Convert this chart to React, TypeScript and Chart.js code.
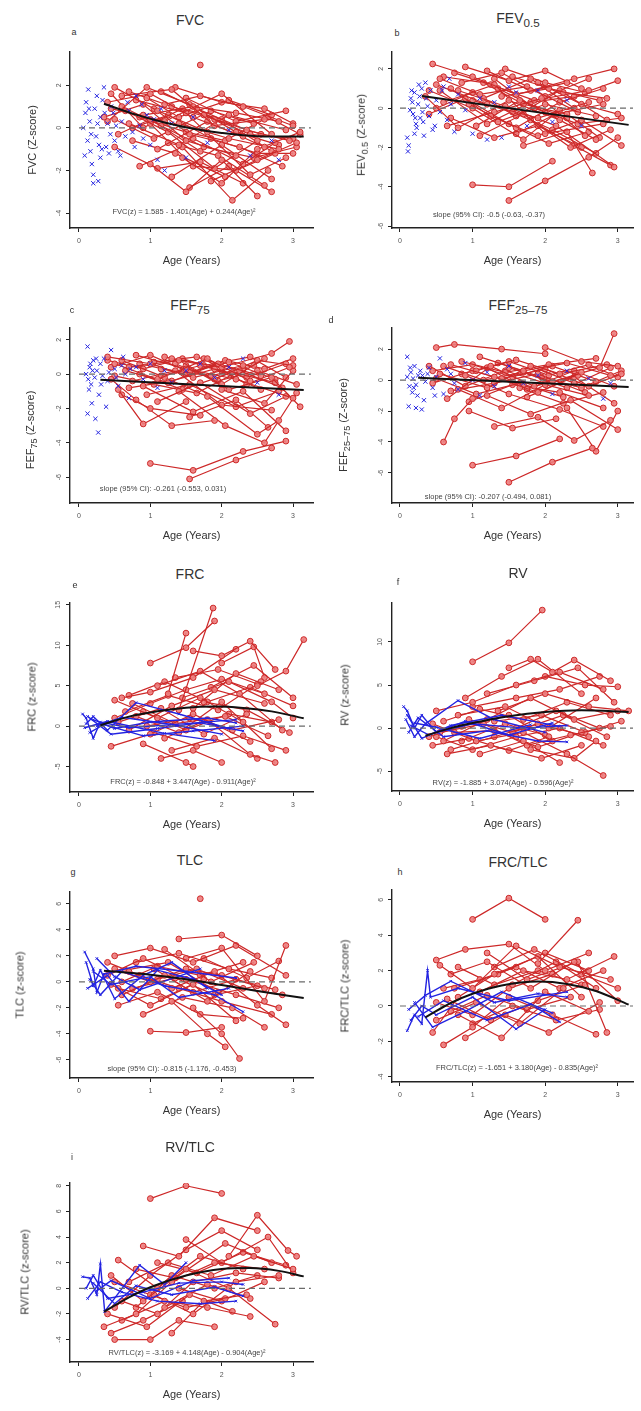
import React, { useEffect, useRef } from "react";
import { Chart, registerables } from "chart.js";
Chart.register(...registerables);

const FONT = '"Liberation Sans", Arial, Helvetica, sans-serif';

const xTickValues = [0, 1, 2, 3];

// ---------- a: FVC ----------
const fvcTicks = [2, 0, -2, -4];
const fvcRed: number[][] = [
  [0.4, 1.2, 1.0, 1.6, 1.6, 0.5, 2.3, -0.4],
  [0.5, 1.9, 1.1, 0.8, 1.8, -0.2],
  [0.45, 0.9, 1.2, 0.3, 2.0, 1.6, 2.7, -0.3],
  [0.6, 1.5, 1.3, 1.8, 1.9, 0.1, 2.6, 0.4],
  [0.35, 0.5, 0.9, 1.1, 1.5, -0.6, 2.2, -1.3],
  [0.7, 0.2, 1.4, -0.8, 2.1, 0.6, 2.9, -0.1],
  [0.8, 1.3, 1.5, 0.7, 2.4, -2.2, 2.9, -1.4],
  [0.55, -0.3, 1.0, 0.4, 1.7, -1.1],
  [1.0, -1.7, 1.5, -3.0, 2.0, -1.5, 2.5, -3.2],
  [0.9, 0.6, 1.6, 1.0, 2.2, 0.7, 2.8, 0.3],
  [1.1, -1.0, 1.8, 0.3, 2.6, -0.9],
  [1.2, 1.1, 1.7, 1.5, 2.3, 1.0, 3.0, 0.1],
  [1.3, -2.3, 2.0, -0.8, 2.7, -2.4],
  [0.65, 0.8, 1.25, -0.2, 1.9, -1.9, 2.5, -0.6],
  [1.4, 0.2, 2.1, -0.5, 2.8, -1.0],
  [1.45, -1.4, 2.0, -2.6, 2.5, -1.0, 3.1, -0.2],
  [1.5, 1.4, 2.2, 0.3, 2.9, 0.8],
  [0.75, -0.6, 1.35, -1.2, 2.05, -2.3],
  [1.15, 1.7, 1.65, 0.9, 2.35, -0.1, 2.95, -0.6],
  [1.6, -0.5, 2.3, -1.7, 2.75, -0.7],
  [1.7, 2.95],
  [0.85, -1.8, 1.45, -0.9, 2.15, -3.4, 2.65, -2.0],
  [1.75, 0.6, 2.4, -0.3, 3.0, -0.5],
  [0.5, 0.4, 1.05, -0.5, 1.85, 0.8, 2.45, 0.2],
  [1.05, 0.9, 1.55, -0.3, 2.25, -0.9, 2.85, -1.8],
  [1.85, -2.5, 2.5, -1.5, 3.05, -0.7],
  [0.95, 1.4, 1.4, 0.5, 2.1, 1.3, 2.7, 0.6],
  [1.25, -0.7, 1.95, -1.3, 2.6, -2.7],
  [0.4, 0.3, 0.95, 1.9, 1.55, 1.1, 2.2, -0.2, 2.8, -0.8],
  [0.6, 1.0, 1.15, 0.1, 1.75, -0.9, 2.45, -1.4, 3.05, -0.9],
  [0.7, 1.7, 1.3, 1.0, 1.9, 0.4, 2.55, -0.3],
  [0.85, 0.5, 1.5, -0.2, 2.05, -0.6, 2.65, 0.5, 3.1, -0.3],
  [0.5, -0.9, 1.1, -1.9, 1.7, -1.6, 2.3, -2.6],
  [1.0, 0.2, 1.6, -1.8, 2.2, -2.0, 2.75, -1.2],
  [1.35, 1.9, 2.0, 1.2, 2.6, 0.9, 3.0, 0.2],
  [0.45, 1.6, 0.9, 0.0, 1.45, 0.9, 2.0, 0.4, 2.7, -1.1],
  [1.55, -2.8, 2.1, -1.8, 2.7, -3.0],
  [0.75, 0.0, 1.25, 0.6, 1.85, -0.5, 2.5, -1.2, 3.0, -1.2],
];
const fvcBlue = [
  0.1, 1.2, 0.12, -0.6, 0.15, 0.3, 0.18, -1.7, 0.2, -2.2, 0.08, -1.3, 0.22, 0.9, 0.25, 1.5,
  0.28, -0.8, 0.3, 0.5, 0.13, 1.8, 0.17, -0.3, 0.32, -1.0, 0.35, 1.9, 0.38, -0.9, 0.4, 0.2,
  0.42, -1.2, 0.45, 1.0, 0.5, -0.6, 0.55, -1.1, 0.6, 0.3, 0.65, -0.4, 0.7, 0.8, 0.75, -0.2,
  0.8, 1.5, 0.85, 0.1, 0.9, -0.5, 0.95, 0.6, 1.0, -0.8, 1.05, 0.4, 1.1, -1.5, 1.15, 0.9,
  1.2, -2.0, 1.3, 0.2, 0.27, -2.5, 0.2, -2.6, 0.06, 0.0, 0.09, 0.7, 0.33, 1.3, 0.48, 0.7,
  0.58, -1.3, 0.68, 1.2, 0.78, -0.9, 0.88, 1.1, 1.5, -1.4, 1.6, 0.5, 1.8, -0.7, 2.1, -0.1,
  2.4, -1.3, 2.7, -0.6, 2.8, -1.5, 0.14, 0.9, 0.16, -1.1, 0.24, -0.4, 0.26, 0.2, 0.3, -1.4,
  0.36, 0.7, 0.44, -0.3, 0.52, 0.1,
];
const fvcFit = [0.35, 1.13, 0.8, 0.62, 1.2, 0.25, 1.6, -0.04, 2.0, -0.24, 2.5, -0.39, 3.15, -0.41];

// ---------- b: FEV0.5 ----------
const fevTicks = [2, 0, -2, -4, -6];
const fevRed: number[][] = [
  [0.45, 2.25, 1.0, 1.6, 1.6, 0.7, 2.3, 1.3],
  [0.5, 1.2, 1.2, 0.2, 1.9, -0.5, 2.6, 0.3],
  [0.9, 2.1, 1.5, 1.4, 2.0, 1.9, 2.5, 1.0],
  [0.35, 0.6, 0.8, -1.0, 1.5, 0.4, 2.2, -0.6],
  [0.6, 0.3, 1.3, 1.2, 2.0, -1.3, 2.8, -0.8],
  [1.0, -3.9, 1.5, -4.0, 2.1, -2.7],
  [1.5, -4.7, 2.0, -3.7, 2.6, -2.5, 3.0, -1.5],
  [1.7, -1.9, 2.3, -1.2, 2.65, -3.3],
  [1.2, 1.9, 1.8, 0.9, 2.4, 1.5, 2.95, 2.0],
  [0.7, 1.0, 1.35, -0.7, 2.0, 0.2, 2.7, -0.4],
  [1.1, -1.4, 1.7, -0.3, 2.35, -2.0, 2.9, -1.1],
  [0.8, 0.9, 1.45, 0.1, 2.15, -0.9, 2.95, -3.0],
  [1.4, 0.6, 2.05, 1.0, 2.75, 0.4],
  [0.55, 1.5, 1.1, 0.7, 1.75, 1.1, 2.45, -0.2],
  [1.25, -0.4, 1.9, -1.4, 2.5, -0.6, 3.05, -1.9],
  [0.65, -0.9, 1.3, -0.2, 1.95, 0.5, 2.55, -1.4],
  [1.55, 1.6, 2.25, 0.8, 2.85, 0.5],
  [0.95, 0.2, 1.6, -1.0, 2.2, 0.3, 2.8, 1.0],
  [1.8, -0.6, 2.4, -1.9, 2.9, -2.9],
  [0.75, 1.8, 1.25, 1.2, 1.85, 0.4, 2.6, 0.9],
  [1.05, -0.9, 1.65, 0.4, 2.3, -0.5],
  [1.35, 1.0, 2.0, -0.2, 2.7, -1.6],
  [0.4, 0.9, 1.0, 0.0, 1.7, -1.6, 2.2, -0.1],
  [1.9, 1.3, 2.5, 0.2, 3.0, -0.3],
  [1.15, 0.5, 1.8, 1.5, 2.4, 0.0],
  [0.5, 0.0, 1.0, 0.8, 1.6, -0.4, 2.2, 0.9, 2.85, -0.6],
  [0.6, 1.6, 1.15, 1.3, 1.7, 0.2, 2.3, -0.3, 2.75, -1.5],
  [0.7, -0.5, 1.3, -1.5, 1.9, -0.9, 2.5, -2.0],
  [0.85, 1.3, 1.4, 1.8, 2.0, 0.6, 2.6, 1.5],
  [1.0, 0.4, 1.55, -0.2, 2.1, -1.1, 2.7, -2.3],
  [1.3, 1.5, 1.85, 0.0, 2.45, -0.8, 3.05, -0.5],
  [0.4, -0.3, 0.9, 0.5, 1.5, -0.8, 2.05, -1.8, 2.6, -1.2],
  [1.6, -1.3, 2.15, -0.3, 2.8, 0.2],
  [0.55, 0.9, 1.2, -0.8, 1.8, 0.3, 2.4, 0.6],
  [1.45, 2.0, 2.0, 1.3, 2.55, 0.8, 3.0, 1.4],
];
const fevBlue = [
  0.1, -1.5, 0.12, -1.9, 0.11, -2.2, 0.15, 0.5, 0.18, -0.3, 0.2, 0.8, 0.22, -0.8, 0.25, 0.2,
  0.28, -0.5, 0.3, 1.0, 0.14, -0.1, 0.17, 0.3, 0.23, -1.0, 0.27, 0.6, 0.32, -0.7, 0.35, 1.3,
  0.38, 0.1, 0.4, -0.4, 0.42, 0.9, 0.45, -1.1, 0.5, 0.4, 0.55, -0.2, 0.6, 1.1, 0.65, -0.6,
  0.7, 0.2, 0.75, -1.2, 0.8, 0.7, 0.9, -0.1, 1.0, -1.3, 1.1, 0.5, 1.2, -1.6, 1.3, 0.3,
  1.4, -1.5, 1.5, 1.1, 1.6, 0.8, 1.75, -0.9, 1.9, 0.9, 2.1, -0.7, 2.3, 0.4, 2.5, -0.9,
  0.2, -1.3, 0.33, -1.4, 0.48, -0.9, 0.58, 0.9, 0.68, 1.5, 0.16, 0.9, 0.21, -0.5, 0.26, 1.2,
  0.31, -0.2, 0.36, 0.5,
];
const fevFit = [0.3, 0.62, 3.15, -0.85];

// ---------- c: FEF75 ----------
const fef75Ticks = [2, 0, -2, -4, -6];
const fef75Red: number[][] = [
  [0.4, 1.0, 1.0, 0.6, 1.6, -0.2, 2.3, 0.5],
  [0.5, 0.6, 1.1, -0.3, 1.8, 0.9, 2.4, -0.4],
  [0.55, -0.9, 0.9, -2.9, 1.5, -1.6],
  [0.6, -1.2, 1.0, -2.0, 1.7, -2.4],
  [0.45, -0.3, 0.8, -1.5, 1.3, -3.0, 1.9, -2.7],
  [1.0, -5.2, 1.6, -5.6, 2.3, -4.5, 2.9, -3.9],
  [1.55, -6.1, 2.2, -5.0, 2.7, -4.3],
  [0.7, 0.4, 1.4, 0.8, 2.0, -0.6, 2.6, 0.9],
  [1.2, -0.2, 1.8, -1.3, 2.5, -3.5, 2.8, -2.7],
  [0.8, 1.1, 1.5, 0.3, 2.2, -0.3, 3.0, -1.4],
  [1.3, 0.9, 2.0, 0.4, 2.7, 1.2, 2.95, 1.9],
  [0.9, -0.7, 1.6, -2.2, 2.3, -1.0, 2.9, -3.3],
  [1.5, 0.5, 2.1, -0.9, 2.7, -0.2, 3.1, -1.9],
  [1.1, -1.6, 1.7, -0.5, 2.4, -2.3, 2.9, -1.3],
  [0.65, 0.2, 1.25, -0.5, 1.95, 0.6, 2.55, -0.1],
  [1.4, -1.0, 2.05, -3.0, 2.6, -4.0, 3.05, -1.1],
  [1.75, 0.9, 2.35, -0.6, 2.95, 0.4],
  [0.75, -0.4, 1.35, 0.2, 2.0, -1.8, 2.7, -2.1],
  [1.05, 0.7, 1.65, 1.0, 2.25, 0.2, 2.85, -0.8],
  [1.9, -0.3, 2.5, 0.8, 3.0, 0.5],
  [0.85, 0.0, 1.45, -0.9, 2.15, 0.1, 2.75, -0.5],
  [1.55, -2.5, 2.2, -1.5, 2.65, -3.1],
  [1.15, 0.3, 1.85, -0.1, 2.45, 0.5],
  [2.0, -0.9, 2.6, -1.7, 3.0, 0.2],
  [0.45, 0.4, 1.0, 1.1, 1.55, 0.1, 2.1, 0.7, 2.75, -0.3],
  [0.6, 0.8, 1.15, -0.1, 1.7, 0.5, 2.35, -0.2, 2.9, 0.6],
  [0.7, -0.8, 1.3, -0.4, 1.9, 0.3, 2.55, -0.9],
  [0.85, 0.6, 1.5, 0.0, 2.05, 0.8, 2.6, 0.3, 3.0, 0.9],
  [0.5, -0.1, 1.05, -0.6, 1.65, -1.1, 2.3, 0.3],
  [1.2, 1.0, 1.75, 0.5, 2.4, 1.0, 2.9, -0.2],
  [0.95, -1.2, 1.55, -0.6, 2.2, -1.9, 2.8, -1.0],
  [1.35, 0.6, 1.95, -0.4, 2.5, 0.2, 3.05, -0.6],
  [0.4, 0.8, 0.9, 0.3, 1.45, 0.9, 2.0, 0.2],
];
const fef75Blue = [
  0.12, 1.6, 0.1, 0.0, 0.13, -0.3, 0.15, 0.4, 0.17, -0.6, 0.2, 0.8, 0.22, -0.2, 0.25, 0.2,
  0.18, -1.7, 0.12, -2.3, 0.23, -2.6, 0.27, -3.4, 0.3, 0.6, 0.33, -0.1, 0.35, 0.9, 0.4, -0.4,
  0.45, 1.4, 0.5, 0.3, 0.55, -0.7, 0.6, 0.5, 0.65, 0.0, 0.7, -1.4, 0.8, 0.4, 0.9, -0.3,
  1.0, 0.6, 1.1, -0.8, 1.2, 0.2, 1.3, -0.5, 1.5, 0.2, 1.7, 0.6, 1.9, -0.2, 2.1, 0.4,
  2.3, 0.9, 2.5, -0.5, 2.8, -1.2, 0.28, -1.2, 0.38, -1.9, 0.16, 0.6, 0.42, 0.1, 0.52, -0.2,
  0.62, 1.0, 0.72, 0.3, 0.14, -0.9, 0.19, 0.2, 0.24, 0.9, 0.31, -0.6,
];
const fef75Fit = [0.3, -0.33, 3.15, -0.93];

// ---------- d: FEF25-75 ----------
const fef2575Ticks = [2, 0, -2, -4, -6];
const fef2575Red: number[][] = [
  [0.5, 2.1, 0.75, 2.3, 1.4, 2.0, 2.0, 1.7],
  [2.0, 2.1, 2.5, 1.2, 3.0, 0.9],
  [0.6, -4.0, 0.75, -2.5, 1.0, -1.2],
  [1.0, -5.5, 1.6, -4.9, 2.2, -3.8],
  [1.5, -6.6, 2.1, -5.3, 2.65, -4.4],
  [0.7, 1.0, 1.3, 0.2, 1.9, -0.8, 2.5, 0.5],
  [0.8, -0.6, 1.4, -1.8, 2.0, -0.3, 2.6, -1.0],
  [1.1, 1.5, 1.7, 0.6, 2.3, 1.1, 2.9, 0.3],
  [0.55, 0.4, 1.2, -0.5, 1.8, 0.9, 2.4, -0.2],
  [1.3, -3.0, 1.9, -2.4, 2.4, -3.9, 2.9, -2.6],
  [2.3, -1.8, 2.7, -4.6, 3.0, -2.0],
  [1.5, 0.8, 2.1, -0.1, 2.75, 0.8, 2.95, 3.0],
  [0.9, 0.3, 1.5, -0.9, 2.2, -1.9, 2.8, -3.0],
  [1.2, -1.0, 1.8, -2.2, 2.35, -1.3, 3.0, -3.2],
  [0.65, -1.2, 1.25, 0.9, 1.85, -0.4, 2.45, 0.3],
  [1.05, 0.6, 1.6, 1.3, 2.2, 0.4, 2.85, 1.0],
  [1.65, -0.5, 2.25, -1.5, 2.8, -0.8],
  [0.95, -2.0, 1.55, -3.1, 2.15, -2.5],
  [1.4, 0.1, 2.0, 0.7, 2.6, -0.4, 3.05, 0.4],
  [0.85, 1.2, 1.45, 0.5, 2.05, 1.0, 2.7, 1.4],
  [1.75, -1.1, 2.4, 0.2, 2.95, -1.5],
  [0.45, -0.2, 1.0, 0.6, 1.7, -0.3],
  [0.45, 0.6, 1.0, 1.0, 1.55, 0.2, 2.1, 0.9, 2.7, -0.1],
  [0.6, 0.9, 1.15, 0.0, 1.7, 0.5, 2.3, -0.5, 2.9, 0.8],
  [0.7, -0.7, 1.3, -0.2, 1.9, 0.4, 2.55, -0.8],
  [0.85, 0.4, 1.5, 1.2, 2.05, 0.3, 2.6, 1.0, 3.0, 0.2],
  [0.5, 0.1, 1.05, -0.9, 1.65, -0.2, 2.25, -1.1],
  [1.2, 0.8, 1.75, -0.6, 2.4, 0.6, 2.95, -0.4],
  [0.95, -1.4, 1.55, -0.3, 2.2, -0.8, 2.8, -1.8],
  [1.35, 1.1, 1.95, 0.2, 2.5, -0.5, 3.05, 0.6],
  [0.4, 0.9, 0.9, -0.4, 1.45, 0.6, 2.0, -0.2],
];
const fef2575Blue = [
  0.1, 1.5, 0.1, 0.2, 0.13, -0.4, 0.15, 0.5, 0.17, -0.8, 0.2, 0.9, 0.22, -0.3, 0.25, 0.3,
  0.12, -1.7, 0.22, -1.8, 0.3, -1.9, 0.33, -1.3, 0.28, 0.6, 0.35, -0.1, 0.4, 0.8, 0.45, -0.5,
  0.5, 0.2, 0.55, 1.4, 0.6, -0.9, 0.7, 0.4, 0.8, -0.6, 0.9, 1.1, 1.0, 0.0, 1.1, -1.0,
  1.2, 0.5, 1.3, -0.4, 1.5, 0.9, 1.7, -0.2, 1.9, 0.3, 2.1, -0.9, 2.3, 0.6, 2.6, 0.1,
  2.8, -1.2, 2.9, -0.2, 0.18, 0.1, 0.38, 0.4, 0.48, -1.0, 0.65, 0.7, 0.75, -0.2, 0.14, 0.8,
  0.19, -0.5, 0.24, -1.0, 0.31, 0.3,
];
const fef2575Fit = [0.25, 0.15, 3.15, -0.45];

// ---------- e: FRC ----------
const frcTicks = [15, 10, 5, 0, -5];
const frcRed: number[][] = [
  [1.0, 7.8, 1.5, 9.7, 1.9, 13.0],
  [1.25, 4.0, 1.5, 11.5],
  [1.4, 2.0, 1.88, 14.6],
  [1.6, 9.3, 2.0, 8.7, 2.4, 10.5, 2.75, 7.0],
  [0.6, 3.5, 1.0, 4.2, 1.6, 6.0, 2.2, 9.5],
  [2.5, 5.0, 2.9, 6.8, 3.15, 10.7],
  [0.5, 3.2, 1.1, 1.0, 1.7, 3.5, 2.3, 0.5],
  [0.45, -2.5, 1.0, -1.0, 1.6, 1.5, 2.4, -1.9],
  [0.7, -0.5, 1.3, 2.5, 1.9, 4.5, 2.6, 2.8],
  [0.8, 1.2, 1.4, -0.8, 2.0, 3.0, 2.7, -2.8],
  [1.1, 5.0, 1.7, 6.8, 2.25, 4.0, 2.85, -0.5],
  [0.9, -2.2, 1.5, -4.5, 1.6, -5.0],
  [1.2, -1.5, 1.8, 0.8, 2.4, -3.5, 2.75, -4.5],
  [1.45, 3.5, 2.1, 5.5, 2.7, 3.0, 3.0, 1.0],
  [0.55, 0.5, 1.15, 2.2, 1.75, -1.0, 2.35, 1.5],
  [1.3, -3.0, 1.9, -1.5, 2.5, -4.0],
  [1.6, 2.2, 2.2, 6.5, 2.8, 4.5],
  [0.65, 1.8, 1.25, 3.8, 1.95, 2.0, 2.55, 5.5],
  [0.95, 0.0, 1.55, 1.0, 2.15, -0.5, 2.8, 0.8],
  [1.85, 4.8, 2.45, 7.5, 3.0, 3.5],
  [1.05, -0.8, 1.65, -2.5, 2.3, -1.2, 2.9, -3.0],
  [0.75, 2.8, 1.35, 0.3, 2.05, 1.2, 2.65, -1.2],
  [1.75, 3.0, 2.35, 2.0, 2.95, -0.8],
  [2.0, 7.8, 2.45, 9.8, 2.6, 6.0],
  [1.15, -4.0, 1.6, -3.0, 2.0, -4.5],
  [0.5, 1.0, 1.0, 2.8, 1.5, 4.5, 2.0, 5.8, 2.6, 4.0],
  [0.7, 3.8, 1.2, 5.5, 1.8, 3.0, 2.4, 4.8, 3.0, 2.5],
  [0.9, 1.8, 1.5, -0.5, 2.1, 1.5, 2.7, 0.5],
  [1.35, 6.0, 1.95, 7.0, 2.5, 5.2],
];
const frcBlue: number[][] = [
  [0.05, 1.5, 0.1, 1.0, 0.2, -1.5, 0.3, 0.5, 0.7, -0.2, 1.5, 0.3, 2.2, 0.8],
  [0.1, 0.3, 0.2, 1.2, 0.4, -0.5, 0.8, 2.9, 1.4, 1.5, 2.1, -0.3],
  [0.15, -0.8, 0.35, 0.2, 0.9, -1.2, 1.6, -0.6, 2.3, 0.0],
  [0.2, 0.8, 0.5, -0.3, 1.0, 0.5, 1.8, 1.0, 2.2, 0.4],
  [0.08, -0.2, 0.4, 0.6, 1.2, -0.9, 1.9, -1.8],
  [0.25, 0.0, 0.6, 1.1, 1.3, 0.2, 2.0, -1.0],
  [0.12, 1.2, 0.45, -1.0, 1.1, -0.3, 1.7, 0.4, 2.3, -0.6],
];
const frcFit = [0.3, 0.1, 0.7, 1.17, 1.1, 1.84, 1.5, 2.27, 1.9, 2.41, 2.3, 2.24, 2.7, 1.82, 3.15, 0.97];

// ---------- f: RV ----------
const rvTicks = [10, 5, 0, -5];
const rvRed: number[][] = [
  [1.0, 7.7, 1.5, 9.9, 1.96, 13.7],
  [1.5, 7.0, 1.8, 8.0, 2.1, 6.5, 2.4, 7.9, 2.9, 5.5],
  [0.9, 3.5, 1.4, 6.0, 1.9, 8.0, 2.5, 4.0],
  [0.5, 2.0, 1.0, 3.0, 1.6, 5.0, 2.2, 6.5, 2.8, 4.5],
  [0.6, -1.5, 1.2, 1.0, 1.8, 3.5, 2.4, 1.0, 3.0, 2.0],
  [0.45, 0.5, 1.05, -1.5, 1.7, -0.5, 2.3, -3.0, 2.8, -5.5],
  [0.7, -2.5, 1.3, -1.0, 1.9, 0.5, 2.6, -1.0],
  [0.8, 1.5, 1.45, 2.5, 2.05, 0.0, 2.7, 3.5],
  [1.1, -3.0, 1.7, -1.5, 2.2, -4.0],
  [1.2, 4.0, 1.85, 5.5, 2.45, 7.0, 2.95, 3.0],
  [0.55, -0.5, 1.15, 0.5, 1.75, -2.0, 2.35, -0.8, 2.9, 0.2],
  [1.35, 2.0, 2.0, 4.0, 2.6, 2.5, 3.15, 2.0],
  [0.65, -3.0, 1.25, -2.0, 1.95, -3.5, 2.5, -2.0],
  [1.6, 0.0, 2.15, 2.0, 2.75, 0.0],
  [0.95, 1.0, 1.55, -0.5, 2.25, 1.5, 2.85, -1.0],
  [1.8, -2.5, 2.4, -3.5, 2.7, -1.5],
  [2.0, 6.0, 2.55, 5.0, 3.0, 4.8],
  [0.4, -1.0, 0.85, 0.2, 1.5, 1.5, 2.1, -1.5],
  [0.5, -1.0, 1.0, -2.5, 1.6, -1.0, 2.2, 0.0, 2.8, -2.0],
  [0.6, 0.8, 1.1, 2.2, 1.7, 1.0, 2.3, 3.0, 2.9, 1.5],
  [0.75, -0.5, 1.3, -0.3, 1.9, -2.2, 2.5, -0.5],
  [1.0, 2.5, 1.6, 3.5, 2.2, 4.5, 2.75, 6.0],
  [0.45, -2.0, 0.95, -1.2, 1.5, -2.6, 2.05, -1.0],
  [1.3, 0.8, 1.95, 1.5, 2.55, -0.5, 3.05, 0.8],
  [0.85, -1.5, 1.45, 0.5, 2.0, -0.8],
];
const rvBlue: number[][] = [
  [0.05, 2.5, 0.1, 2.0, 0.2, 0.0, 0.3, 1.5, 0.5, -0.5, 1.0, 0.5, 1.7, 0.0, 2.3, 0.3],
  [0.08, 1.0, 0.2, -1.0, 0.35, 0.5, 0.8, 3.2, 1.3, 1.0, 2.0, -0.5],
  [0.12, -0.5, 0.25, 1.2, 0.6, -1.0, 1.2, -0.3, 1.9, -1.5, 2.3, -1.6],
  [0.15, 0.3, 0.4, -0.8, 0.9, 0.8, 1.5, -0.8, 2.1, 0.6],
  [0.1, 1.5, 0.3, -1.2, 0.7, 0.3, 1.4, 1.5, 2.2, 0.2],
  [0.2, 0.6, 0.5, 0.1, 1.1, -1.2, 1.8, 0.4],
];
const rvFit = [0.35, -0.88, 0.7, 0.0, 1.0, 0.59, 1.5, 1.38, 2.0, 1.88, 2.5, 2.08, 3.15, 1.88];

// ---------- g: TLC ----------
const tlcTicks = [6, 4, 2, 0, -2, -4, -6];
const tlcRed: number[][] = [
  [1.7, 6.4],
  [1.4, 3.3, 2.0, 3.6, 2.5, 2.0],
  [0.5, 2.0, 1.0, 2.6, 1.6, 1.5, 2.2, 2.8, 2.9, 0.5],
  [1.5, 1.8, 2.0, 2.6, 2.6, -1.5, 2.9, 2.8],
  [0.4, 0.5, 0.9, 1.8, 1.5, 0.2, 2.2, -1.0, 2.8, -2.0],
  [0.6, -1.0, 1.2, 0.5, 1.8, -1.5, 2.4, 0.8],
  [1.0, -3.8, 1.5, -3.9, 2.0, -3.5],
  [1.3, -1.5, 1.8, -4.0, 2.05, -5.0],
  [1.6, -2.0, 2.0, -4.0, 2.25, -5.9],
  [0.7, 0.8, 1.3, -0.5, 1.9, 0.8, 2.5, -1.8, 2.9, -3.3],
  [0.55, -1.8, 1.1, -0.8, 1.7, -2.5, 2.3, -2.8],
  [0.8, 1.5, 1.4, 2.2, 2.1, 1.0, 2.7, 0.3],
  [1.1, 0.2, 1.65, 1.0, 2.3, -0.5, 2.85, -1.0],
  [0.45, -0.2, 1.0, -1.8, 1.6, -0.2, 2.2, -3.0],
  [1.2, 2.5, 1.85, 0.0, 2.45, 1.5],
  [0.9, -2.5, 1.45, -1.2, 2.15, -2.0, 2.6, -3.5],
  [1.75, 1.8, 2.35, 0.3, 2.8, 1.6],
  [0.65, 0.9, 1.25, 1.5, 1.95, -0.8],
  [0.5, 1.0, 1.0, 0.0, 1.5, 1.0, 2.0, 0.5, 2.6, -0.5],
  [0.6, 0.0, 1.1, 1.2, 1.7, 0.5, 2.3, 1.5],
  [0.75, -0.5, 1.35, 0.3, 1.9, -1.0, 2.5, -0.3],
  [0.4, 1.5, 0.85, 0.5, 1.4, -0.5, 2.0, -1.5, 2.7, -2.5],
  [1.05, 1.0, 1.6, -0.8, 2.2, 0.2, 2.75, -0.6],
  [0.55, -0.5, 1.15, -1.3, 1.75, 0.2],
];
const tlcBlue: number[][] = [
  [0.08, 2.3, 0.2, 1.0, 0.25, -0.8, 0.35, 0.6, 0.8, 1.2, 1.5, 0.8, 2.2, 0.3],
  [0.1, 1.5, 0.2, -0.3, 0.3, 0.9, 0.5, -1.3, 0.9, 0.5, 1.3, 1.5, 1.8, -0.5],
  [0.15, 0.2, 0.3, -1.0, 0.6, 0.8, 1.2, -0.3, 1.9, -1.0, 2.3, -2.3],
  [0.12, -0.5, 0.4, 0.5, 0.7, -1.5, 1.1, 0.9, 1.6, 0.2, 2.0, -1.0],
  [0.2, 0.8, 0.45, -0.2, 1.0, 0.4, 1.4, -1.2, 2.1, -0.5],
  [0.25, 1.8, 0.5, 0.4, 0.85, -0.6, 1.7, 1.0],
];
const tlcFit = [0.35, 0.85, 1.0, 0.55, 1.5, 0.2, 2.0, -0.25, 2.5, -0.7, 3.15, -1.25];

// ---------- h: FRC/TLC ----------
const frcTlcTicks = [6, 4, 2, 0, -2, -4];
const frcTlcRed: number[][] = [
  [1.0, 4.9, 1.5, 6.1, 2.0, 4.9],
  [1.9, 2.4, 2.45, 4.85],
  [0.5, 2.6, 0.9, 3.2, 1.5, 3.5, 2.0, 2.0, 2.6, 3.0],
  [0.55, 2.3, 1.0, 1.0, 1.6, 3.4, 2.2, 2.2, 2.9, 1.5],
  [0.6, -2.2, 1.0, -1.2, 1.5, 0.5, 2.1, -0.5, 2.7, -1.6],
  [0.45, -1.5, 0.8, 0.5, 1.3, 1.8, 1.9, 2.8, 2.5, 0.5],
  [0.7, 1.8, 1.2, 2.5, 1.8, 1.0, 2.4, 2.5, 3.0, 0.3],
  [0.8, -0.5, 1.4, -1.8, 2.0, 0.8, 2.6, -0.3],
  [1.1, 0.8, 1.7, 2.0, 2.3, 1.5, 2.95, 2.8],
  [0.5, -0.8, 1.05, 0.2, 1.65, -1.0, 2.25, 1.0],
  [1.2, 3.0, 1.75, 1.5, 2.45, 2.5, 2.85, -1.5],
  [0.9, -1.8, 1.45, -0.5, 2.05, -1.5, 2.75, 0.2],
  [1.3, 2.2, 1.85, 3.2, 2.5, 1.8, 3.0, 1.0],
  [0.65, 0.4, 1.25, -0.8, 1.9, 0.3, 2.55, 1.2],
  [1.55, 1.2, 2.15, 2.5, 2.7, 1.0],
  [0.75, 1.0, 1.35, 1.8, 2.0, 3.0, 2.6, 2.0],
  [0.6, 1.0, 1.1, 1.5, 1.6, 2.2, 2.2, 1.0, 2.8, 2.0],
  [0.5, 0.2, 1.0, -0.5, 1.5, 1.0, 2.1, 1.8],
  [0.8, 2.2, 1.3, 1.2, 1.9, 2.0, 2.5, 1.2],
  [1.0, -1.0, 1.55, 0.0, 2.15, -0.8, 2.75, -0.2],
  [0.7, -0.3, 1.2, 0.6, 1.75, -0.2, 2.35, 0.5],
];
const frcTlcBlue: number[][] = [
  [0.1, -1.4, 0.2, -0.5, 0.3, -1.0, 0.38, 2.0, 0.42, 0.5, 0.8, 1.0, 1.5, 0.3, 2.3, 0.8],
  [0.15, -0.8, 0.3, 0.0, 0.5, -0.5, 1.0, 0.5, 1.6, -1.3, 2.0, -0.2],
  [0.12, -0.2, 0.35, 0.6, 0.7, 1.4, 1.3, 0.2, 1.9, 0.7, 2.3, 0.5],
  [0.2, 0.2, 0.45, -1.2, 0.9, -0.3, 1.4, 0.8, 2.1, -0.4],
  [0.25, -0.6, 0.6, 0.3, 1.2, -0.8, 1.8, 0.1, 2.2, -0.9],
];
const frcTlcFit = [0.35, -0.64, 0.7, 0.17, 1.0, 0.69, 1.4, 1.16, 1.9, 1.38, 2.3, 1.25, 2.7, 0.85, 3.15, 0.08];

// ---------- i: RV/TLC ----------
const rvTlcTicks = [8, 6, 4, 2, 0, -2, -4];
const rvTlcRed: number[][] = [
  [1.0, 7.0, 1.5, 8.0, 2.0, 7.4],
  [0.9, 3.3, 1.4, 2.5, 1.9, 5.5, 2.5, 4.5],
  [2.1, 2.5, 2.5, 5.7, 2.93, 2.95, 3.05, 2.5],
  [0.5, -1.5, 1.0, 1.0, 1.5, 3.0, 2.0, 4.5, 2.5, 3.0],
  [0.35, -3.0, 0.8, -2.0, 1.3, 0.5, 1.9, 2.0, 2.6, 1.5],
  [0.5, -4.0, 1.0, -4.0, 1.4, -2.5, 1.9, -3.0],
  [0.45, 1.0, 0.9, -1.0, 1.5, 1.5, 2.1, 0.0, 2.75, -2.8],
  [0.6, -2.5, 1.2, -1.0, 1.8, -1.5, 2.4, -2.2],
  [0.7, 0.5, 1.25, 2.0, 1.85, 1.0, 2.45, 2.5, 3.0, 1.5],
  [1.05, -0.5, 1.6, -2.0, 2.2, 0.5, 2.8, 1.0],
  [0.55, 2.2, 1.1, 0.0, 1.7, 2.5, 2.3, 1.5],
  [1.3, -3.5, 1.75, -1.0, 2.35, -0.5],
  [0.8, 1.5, 1.35, 0.8, 2.05, 3.5, 2.7, 2.0],
  [1.5, 3.8, 2.0, 2.0, 2.65, 4.0, 3.0, 1.2],
  [0.4, -2.0, 0.95, -3.0, 1.55, -0.5, 2.15, -1.8],
  [1.2, -1.5, 1.8, 0.3, 2.4, -0.8],
  [0.6, -1.0, 1.1, -2.0, 1.6, 0.5, 2.2, 1.2, 2.8, 0.8],
  [0.5, 0.5, 1.0, -0.5, 1.5, -1.5, 2.05, -0.8],
  [0.8, -1.5, 1.3, 1.0, 1.9, 0.0, 2.5, 1.0],
  [1.1, 2.0, 1.65, 1.2, 2.3, 2.8, 2.9, 1.8],
  [0.45, -3.5, 0.9, -2.5, 1.45, -1.0],
  [1.4, 0.0, 2.0, -1.0, 2.6, 0.5],
];
const rvTlcBlue: number[][] = [
  [0.05, 0.9, 0.15, 0.8, 0.25, -0.5, 0.3, 1.9, 0.36, -1.8, 0.85, 1.8, 1.2, 0.3, 1.5, 2.0],
  [0.1, 0.0, 0.2, 1.0, 0.4, -0.8, 0.9, -0.3, 1.4, 0.4, 2.0, 0.5, 2.3, 0.3],
  [0.12, -0.8, 0.3, 0.5, 0.6, -0.3, 1.1, -1.0, 1.7, -1.2, 2.2, -1.0],
  [0.2, 0.4, 0.5, -1.2, 0.8, 0.2, 1.3, -0.5, 1.9, 0.1, 2.3, -0.6],
  [0.25, -0.2, 0.45, 0.6, 1.0, -0.8, 1.6, 0.6, 2.1, 0.8],
];
const rvTlcFit = [0.35, -1.83, 0.7, -0.71, 1.0, 0.08, 1.5, 1.0, 2.0, 1.51, 2.4, 1.58, 2.8, 1.36, 3.15, 0.93];

// ---------- layout ----------
type PanelCfg = {
  letter: string;
  col: 0 | 1;
  top: number;
  bottom: number;
  yMin: number;
  yMax: number;
  ticks: number[];
  red: number[][];
  blueX?: number[];
  blueLines?: number[][];
  fit: number[];
  title: React.ReactNode;
  yTitle: React.ReactNode;
  eq: string;
  titleY: number;
  letterX: number;
  letterY: number;
  yTitleX: number;
  yTitleY: number;
  eqX: number;
  eqY: number;
};

const panels: PanelCfg[] = [
  {
    letter: "a", col: 0, top: 52, bottom: 228, yMin: -4.7, yMax: 3.55, ticks: fvcTicks,
    red: fvcRed, blueX: fvcBlue, fit: fvcFit,
    title: <>FVC</>, yTitle: <>FVC (Z-score)</>,
    eq: "FVC(z) = 1.585 - 1.401(Age) + 0.244(Age)²",
    titleY: 20, letterX: 74, letterY: 32, yTitleX: 32, yTitleY: 140, eqX: 184, eqY: 212,
  },
  {
    letter: "b", col: 1, top: 52, bottom: 228, yMin: -6.1, yMax: 2.85, ticks: fevTicks,
    red: fevRed, blueX: fevBlue, fit: fevFit,
    title: <>FEV<sub>0.5</sub></>, yTitle: <>FEV<sub>0.5</sub> (Z-score)</>,
    eq: "slope (95% CI): -0.5 (-0.63, -0.37)",
    titleY: 20, letterX: 397, letterY: 33, yTitleX: 363, yTitleY: 135, eqX: 489, eqY: 215,
  },
  {
    letter: "c", col: 0, top: 328, bottom: 503, yMin: -7.5, yMax: 2.67, ticks: fef75Ticks,
    red: fef75Red, blueX: fef75Blue, fit: fef75Fit,
    title: <>FEF<sub>75</sub></>, yTitle: <>FEF<sub>75</sub> (Z-score)</>,
    eq: "slope (95% CI): -0.261 (-0.553, 0.031)",
    titleY: 307, letterX: 72, letterY: 310, yTitleX: 32, yTitleY: 430, eqX: 163, eqY: 489,
  },
  {
    letter: "d", col: 1, top: 328, bottom: 503, yMin: -7.94, yMax: 3.35, ticks: fef2575Ticks,
    red: fef2575Red, blueX: fef2575Blue, fit: fef2575Fit,
    title: <>FEF<sub>25–75</sub></>, yTitle: <>FEF<sub>25–75</sub> (Z-score)</>,
    eq: "slope (95% CI): -0.207 (-0.494, 0.081)",
    titleY: 307, letterX: 331, letterY: 320, yTitleX: 345, yTitleY: 425, eqX: 488, eqY: 497,
  },
  {
    letter: "e", col: 0, top: 603, bottom: 792, yMin: -8.15, yMax: 15.2, ticks: frcTicks,
    red: frcRed, blueLines: frcBlue, fit: frcFit,
    title: <>FRC</>, yTitle: <>FRC (z-score)</>,
    eq: "FRC(z) = -0.848 + 3.447(Age) - 0.911(Age)²",
    titleY: 574, letterX: 75, letterY: 585, yTitleX: 32, yTitleY: 697, eqX: 183, eqY: 782,
  },
  {
    letter: "f", col: 1, top: 603, bottom: 791, yMin: -7.3, yMax: 14.5, ticks: rvTicks,
    red: rvRed, blueLines: rvBlue, fit: rvFit,
    title: <>RV</>, yTitle: <>RV (z-score)</>,
    eq: "RV(z) = -1.885 + 3.074(Age) - 0.596(Age)²",
    titleY: 573, letterX: 398, letterY: 582, yTitleX: 345, yTitleY: 695, eqX: 503, eqY: 783,
  },
  {
    letter: "g", col: 0, top: 892, bottom: 1078, yMin: -7.4, yMax: 6.9, ticks: tlcTicks,
    red: tlcRed, blueLines: tlcBlue, fit: tlcFit,
    title: <>TLC</>, yTitle: <>TLC (z-score)</>,
    eq: "slope (95% CI): -0.815 (-1.176, -0.453)",
    titleY: 860, letterX: 73, letterY: 872, yTitleX: 20, yTitleY: 985, eqX: 172, eqY: 1069,
  },
  {
    letter: "h", col: 1, top: 890, bottom: 1082, yMin: -4.3, yMax: 6.55, ticks: frcTlcTicks,
    red: frcTlcRed, blueLines: frcTlcBlue, fit: frcTlcFit,
    title: <>FRC/TLC</>, yTitle: <>FRC/TLC (z-score)</>,
    eq: "FRC/TLC(z) = -1.651 + 3.180(Age) - 0.835(Age)²",
    titleY: 862, letterX: 400, letterY: 872, yTitleX: 345, yTitleY: 986, eqX: 517, eqY: 1068,
  },
  {
    letter: "i", col: 0, top: 1183, bottom: 1362, yMin: -5.75, yMax: 8.2, ticks: rvTlcTicks,
    red: rvTlcRed, blueLines: rvTlcBlue, fit: rvTlcFit,
    title: <>RV/TLC</>, yTitle: <>RV/TLC (z-score)</>,
    eq: "RV/TLC(z) = -3.169 + 4.148(Age) - 0.904(Age)²",
    titleY: 1147, letterX: 72, letterY: 1157, yTitleX: 25, yTitleY: 1272, eqX: 187, eqY: 1353,
  },
];

const COLS = [
  { left: 0, width: 320, yAxisW: 70, padRight: 7, xMin: -0.126, xMax: 3.28, titleX: 190 },
  { left: 320, width: 321, yAxisW: 72, padRight: 8, xMin: -0.11, xMax: 3.21, titleX: 518 },
];
const PAD_TOP = 8;
const X_AXIS_H = 42;

const RED = "rgb(205,40,40)";
const RED_FILL = "rgba(236,125,125,0.9)";
const BLUE = "rgb(35,35,225)";

function pts(a: number[]) {
  const r: { x: number; y: number }[] = [];
  for (let i = 0; i + 1 < a.length; i += 2) r.push({ x: a[i], y: a[i + 1] });
  return r;
}

function Panel({ cfg }: { cfg: PanelCfg }) {
  const ref = useRef<HTMLCanvasElement>(null);
  const col = COLS[cfg.col];
  const canvasTop = cfg.top - PAD_TOP;
  const canvasH = cfg.bottom - cfg.top + PAD_TOP + X_AXIS_H;

  useEffect(() => {
    if (!ref.current) return;
    const datasets: any[] = [];
    datasets.push({
      data: pts(cfg.fit), showLine: true, borderColor: "#111", borderWidth: 2,
      pointRadius: 0, cubicInterpolationMode: "monotone", order: 0,
    });
    datasets.push({
      data: [{ x: 0, y: 0 }, { x: 3.25, y: 0 }], showLine: true, borderColor: "#6a6a6a",
      borderDash: [6, 4], borderWidth: 1.2, pointRadius: 0, order: 1,
    });
    if (cfg.blueX) {
      datasets.push({
        data: pts(cfg.blueX), showLine: false, pointStyle: "crossRot", pointRadius: 3,
        borderColor: BLUE, pointBorderColor: BLUE, pointBorderWidth: 1, order: 2,
      });
    }
    if (cfg.blueLines) {
      cfg.blueLines.forEach((s) => {
        datasets.push({
          data: pts(s), showLine: true, borderColor: BLUE, borderWidth: 1.4,
          pointStyle: "crossRot", pointRadius: 1.8, pointBorderColor: BLUE, pointBorderWidth: 1,
          order: 2,
        });
      });
    }
    cfg.red.forEach((s) => {
      datasets.push({
        data: pts(s), showLine: true, borderColor: RED, borderWidth: 1.2,
        pointRadius: 2.9, pointBorderColor: RED, pointBackgroundColor: RED_FILL, pointBorderWidth: 1,
        order: 3,
      });
    });

    const tickCommon = {
      grid: { display: true, drawOnChartArea: false, drawTicks: true, tickLength: 4, color: "#222", lineWidth: 1 },
      border: { display: true, color: "#222", width: 1.4 },
    };

    const chart = new Chart(ref.current, {
      type: "scatter",
      data: { datasets },
      options: {
        animation: false,
        responsive: false,
        devicePixelRatio: 1,
        events: [],
        layout: { padding: { top: PAD_TOP, right: col.padRight, left: 0, bottom: 0 } },
        plugins: { legend: { display: false }, tooltip: { enabled: false } },
        scales: {
          x: {
            type: "linear", min: col.xMin, max: col.xMax,
            afterBuildTicks: (s: any) => { s.ticks = xTickValues.map((v) => ({ value: v })); },
            afterFit: (s: any) => { s.height = X_AXIS_H; },
            ...tickCommon,
            ticks: { font: { size: 7, family: FONT }, color: "#555", padding: 5, maxRotation: 0, autoSkip: false },
            title: { display: true, text: "Age (Years)", font: { size: 11, family: FONT }, color: "#333", padding: { top: 0, bottom: 2 } },
          },
          y: {
            type: "linear", min: cfg.yMin, max: cfg.yMax,
            afterBuildTicks: (s: any) => { s.ticks = cfg.ticks.map((v) => ({ value: v })); },
            afterFit: (s: any) => { s.width = col.yAxisW; },
            ...tickCommon,
            ticks: {
              font: { size: 7, family: FONT }, color: "#555", padding: 4, minRotation: 90, maxRotation: 90,
              crossAlign: "center", autoSkip: false,
            },
          },
        },
      } as any,
    });
    return () => chart.destroy();
  }, []);

  const text = { position: "absolute" as const, fontFamily: FONT, whiteSpace: "nowrap" as const, lineHeight: 1 };

  return (
    <>
      <canvas
        ref={ref}
        width={col.width}
        height={canvasH}
        style={{ position: "absolute", left: col.left, top: canvasTop, width: col.width, height: canvasH }}
      />
      <div style={{ ...text, left: col.titleX, top: cfg.titleY, transform: "translate(-50%,-50%)", fontSize: 14, color: "#333" }}>
        {cfg.title}
      </div>
      <div style={{ ...text, left: cfg.letterX, top: cfg.letterY, transform: "translate(-50%,-50%)", fontSize: 9, color: "#333" }}>
        {cfg.letter}
      </div>
      <div style={{ ...text, left: cfg.yTitleX, top: cfg.yTitleY, transform: "translate(-50%,-50%) rotate(-90deg)", fontSize: 11, color: "#333" }}>
        {cfg.yTitle}
      </div>
      <div style={{ ...text, left: cfg.eqX, top: cfg.eqY, transform: "translate(-50%,-50%)", fontSize: 7.5, color: "#444" }}>
        {cfg.eq}
      </div>
    </>
  );
}

export default function App() {
  return (
    <div style={{ position: "absolute", left: 0, top: 0, width: 641, height: 1411, background: "#fff" }}>
      {panels.map((p) => (
        <Panel key={p.letter} cfg={p} />
      ))}
    </div>
  );
}
